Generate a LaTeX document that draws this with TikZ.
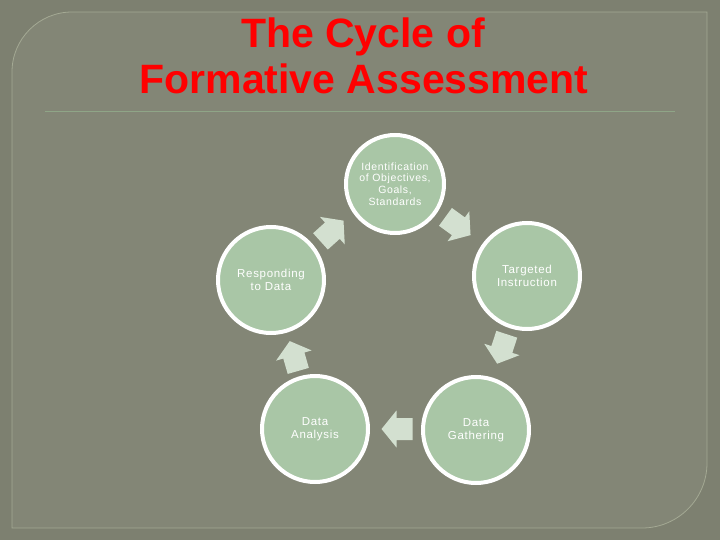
\documentclass[tikz,border=0pt]{standalone}
\usepackage{fontspec}
\setmainfont{Liberation Sans}
\newfontfamily\titlefont{Liberation Sans}
\newfontfamily\circfont[LetterSpace=6]{Liberation Sans}
\definecolor{outerbg}{HTML}{7D8070}
\definecolor{panelbg}{HTML}{838676}
\definecolor{panelline}{HTML}{A4A994}
\definecolor{sepline}{HTML}{8FA587}
\definecolor{circfill}{HTML}{A9C6A6}
\definecolor{arrfill}{HTML}{D3E0D0}
\definecolor{titlered}{HTML}{FF0000}
\tikzset{
  cyc/.style={circle, fill=circfill, draw=white, line width=4pt, inner sep=0pt,
    minimum size=106pt, text=white, align=center,
    font=\circfont\fontsize{11.5}{12.5}\selectfont},
  cycsmall/.style={cyc, minimum size=98pt, font=\circfont\fontsize{10.5}{11.6}\selectfont},
  titletext/.style={font=\titlefont\bfseries\fontsize{41}{46}\selectfont, inner sep=0pt, anchor=base},
  blockarr/.pic={
    \fill[arrfill] (-15.5,-11) -- (0.5,-11) -- (0.5,-18.5) -- (15.5,0)
      -- (0.5,18.5) -- (0.5,11) -- (-15.5,11) -- cycle;
  }
}
\begin{document}
\begin{tikzpicture}[x=1pt,y=-1pt]
\useasboundingbox (0,0) rectangle (720,540);
% background
\fill[outerbg] (0,0) rectangle (720,540);
\filldraw[fill=panelbg, draw=panelline, line width=0.8pt]
  (12,528) -- (12,72) arc[start angle=180, end angle=270, radius=60]
  -- (707,12) -- (707,463) arc[start angle=0, end angle=90, radius=65] -- cycle;
\draw[sepline, line width=1pt] (45,112) -- (675,112);
% title
\node[titletext, text=titlered] (t1) at (363,48) {The Cycle of};
\node[titletext, text=titlered] (t2) at (364,94) {Formative Assessment};
% circles
\node[cycsmall] (ident) at (395,184) {Identification\\of Objectives,\\Goals,\\Standards};
\node[cyc] (target) at (527,276) {Targeted\\Instruction};
\node[cyc] (gather) at (476,430) {Data\\Gathering};
\node[cyc] (analysis) at (315,429) {Data\\Analysis};
\node[cyc] (respond) at (271,280) {Responding\\to Data};
% arrows
\coordinate (a1) at (332,231);
\coordinate (a2) at (458,226);
\coordinate (a3) at (502,349);
\coordinate (a4) at (397,429);
\coordinate (a5) at (294,356);
\pic[rotate=42] at (a1) {blockarr};
\pic[rotate=-36] at (a2) {blockarr};
\pic[rotate=-108] at (a3) {blockarr};
\pic[rotate=180] at (a4) {blockarr};
\pic[rotate=106] at (a5) {blockarr};
\end{tikzpicture}
\end{document}
